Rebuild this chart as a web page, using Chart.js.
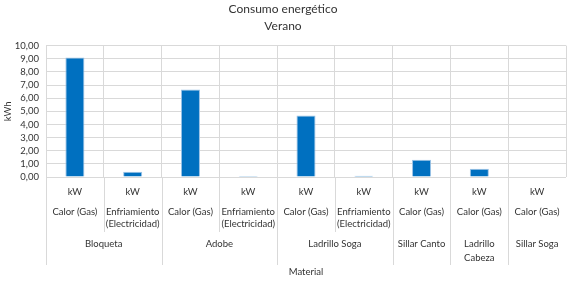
<!DOCTYPE html>
<html>
<head>
<meta charset="utf-8">
<script src="https://cdn.jsdelivr.net/npm/chart.js@4.4.1/dist/chart.umd.min.js"></script>
<style>
  html, body { margin: 0; padding: 0; background: #fff; }
  #wrap { width: 567px; height: 281px; }
</style>
</head>
<body>
<div id="wrap"><canvas id="chart"></canvas></div>
<script>
const units = ['kW', 'kW', 'kW', 'kW', 'kW', 'kW', 'kW', 'kW', 'kW'];
const usos = [
  ['Calor (Gas)'], ['Enfriamiento', '(Electricidad)'],
  ['Calor (Gas)'], ['Enfriamiento', '(Electricidad)'],
  ['Calor (Gas)'], ['Enfriamiento', '(Electricidad)'],
  ['Calor (Gas)'], ['Calor (Gas)'], ['Calor (Gas)']
];
const materiales = [
  { name: ['Bloqueta'], span: 2 },
  { name: ['Adobe'], span: 2 },
  { name: ['Ladrillo Soga'], span: 2 },
  { name: ['Sillar Canto'], span: 1 },
  { name: ['Ladrillo', 'Cabeza'], span: 1 },
  { name: ['Sillar Soga'], span: 1 }
];
const consumo = [9.1, 0.4, 6.66, 0.08, 4.68, 0.1, 1.31, 0.63, 0];
const yTicks = [0, 10, 1];

const FONT = 'Lato, "Open Sans", sans-serif';
const TEXT = '#333333';
const GRID = '#d9d9d9';

// draws the three rows of category labels plus separator lines under the plot
const multiLevelLabels = {
  id: 'multiLevelLabels',
  afterDraw(chart) {
    const { ctx, chartArea } = chart;
    const x = chart.scales.x;
    const half = (x.getPixelForValue(1) - x.getPixelForValue(0)) / 2;
    const bottom = chartArea.bottom;
    ctx.save();
    ctx.fillStyle = TEXT;
    ctx.textAlign = 'center';
    ctx.textBaseline = 'middle';
    ctx.font = '9.5px ' + FONT;

    units.forEach((u, i) => {
      const cx = x.getPixelForValue(i);
      ctx.fillText(u, cx, bottom + 15);
      usos[i].forEach((line, j) => ctx.fillText(line, cx, bottom + 35 + j * 12));
    });

    ctx.strokeStyle = GRID;
    ctx.lineWidth = 1;
    let idx = 0;
    materiales.forEach(m => {
      const left = x.getPixelForValue(idx) - half;
      const right = x.getPixelForValue(idx + m.span - 1) + half;
      m.name.forEach((line, j) => ctx.fillText(line, (left + right) / 2, bottom + 67 + j * 14));
      // group boundary
      const gx = Math.round(left) + 0.5;
      ctx.beginPath();
      ctx.moveTo(gx, bottom);
      ctx.lineTo(gx, bottom + 88);
      ctx.stroke();
      // inner boundaries
      for (let k = 1; k < m.span; k++) {
        const ix = Math.round(x.getPixelForValue(idx + k) - half) + 0.5;
        ctx.beginPath();
        ctx.moveTo(ix, bottom);
        ctx.lineTo(ix, bottom + 55);
        ctx.stroke();
      }
      idx += m.span;
    });

    ctx.fillText('Material', (chartArea.left + chartArea.right) / 2, bottom + 95);
    ctx.restore();
  }
};

new Chart(document.getElementById('chart'), {
  type: 'bar',
  data: {
    labels: units,
    datasets: [{
      label: 'Consumo',
      data: consumo,
      backgroundColor: '#0070c0',
      borderColor: '#9dc3e6',
      borderWidth: 1,
      barPercentage: 0.33,
      categoryPercentage: 1
    }]
  },
  options: {
    responsive: true,
    maintainAspectRatio: false,
    animation: false,
    layout: { padding: { left: 0, right: 1, top: 0, bottom: 0 } },
    plugins: {
      legend: { display: false },
      tooltip: { enabled: false },
      title: {
        display: true,
        text: ['Consumo energético', 'Verano'],
        color: TEXT,
        font: { family: FONT, size: 12, weight: 'normal', lineHeight: 1.4 },
        padding: { top: 1, bottom: 11 }
      }
    },
    scales: {
      x: {
        offset: true,
        grid: { offset: true, color: GRID, drawTicks: false },
        border: { display: false },
        ticks: { display: false },
        afterFit: s => { s.height = 104; }
      },
      y: {
        min: yTicks[0],
        max: yTicks[1],
        grid: { color: GRID, drawTicks: false },
        border: { display: false },
        ticks: {
          stepSize: yTicks[2],
          autoSkip: false,
          color: TEXT,
          padding: 7,
          font: { family: FONT, size: 9.5 },
          callback: v => v.toFixed(2).replace('.', ',')
        },
        title: {
          display: true,
          text: 'kWh',
          color: TEXT,
          font: { family: FONT, size: 9.5 },
          padding: { top: 2, bottom: 0 }
        },
        afterFit: s => { s.width = 46; }
      }
    }
  },
  plugins: [multiLevelLabels]
});
</script>
</body>
</html>
